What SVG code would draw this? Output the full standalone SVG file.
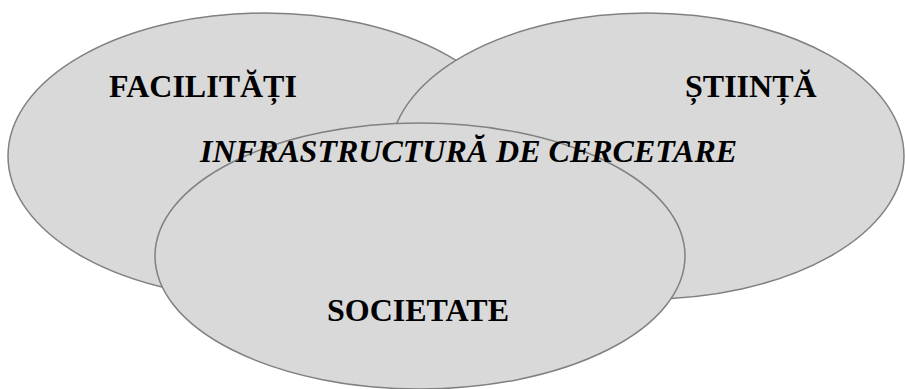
<svg xmlns="http://www.w3.org/2000/svg" xmlns:xlink="http://www.w3.org/1999/xlink" width="905" height="389" viewBox="0 0 905 389">
<style>
.set{fill:#d9d9d9;stroke:#808080;stroke-width:1.5}
.lbl{font-family:"Liberation Serif","Times New Roman",serif;font-size:32px;font-weight:bold;fill:#000}
.it{font-style:italic}
</style>
<rect width="905" height="389" fill="#ffffff"/>
<g id="facilitati">
<ellipse class="set" cx="265" cy="156" rx="257" ry="143"/>
<text class="lbl" x="109" y="97">FACILITĂȚI</text>
</g>
<g id="stiinta">
<ellipse class="set" cx="647" cy="156" rx="257" ry="143"/>
<text class="lbl" x="685" y="97">ȘTIINȚĂ</text>
</g>
<g id="societate">
<ellipse id="socE" class="set" cx="420" cy="256" rx="265" ry="133"/>
<text class="lbl" x="327" y="321">SOCIETATE</text>
</g>
<g id="infrastructura">
<text class="lbl it" x="200" y="162">INFRASTRUCTURĂ DE CERCETARE</text>
</g>
<g id="connectors"></g>
</svg>
